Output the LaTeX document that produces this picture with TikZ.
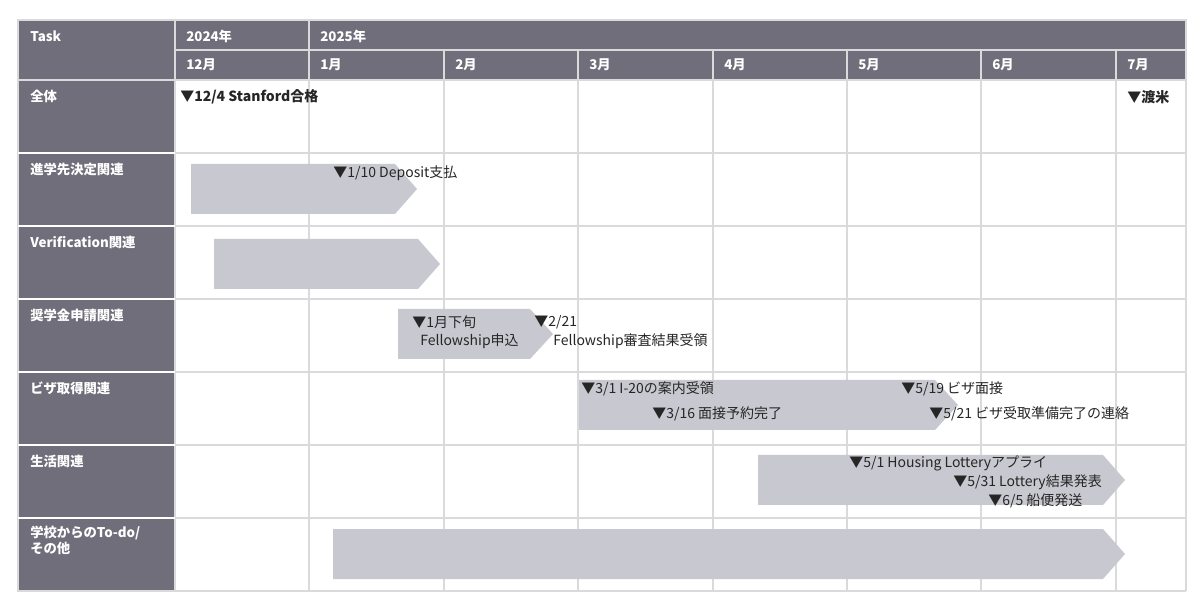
\documentclass[tikz,border=0pt]{standalone}
\usepackage{fontspec}
\setmainfont{Noto Sans CJK JP}
\begin{document}
\begin{tikzpicture}[x=0.75pt,y=-0.75pt,
  hdr/.style={fill=hdrgray,draw=gridgray,line width=0.8pt},
  bar/.style={fill=bargray,draw=none},
  ht/.style={anchor=west,text=white,font=\bfseries\fontsize{10}{12}\selectfont,inner sep=0pt},
  ev/.style={anchor=west,text=black!85,font=\fontsize{10.5}{12}\selectfont,inner sep=0pt},
  evb/.style={anchor=west,text=black!85,font=\bfseries\fontsize{10.5}{12}\selectfont,inner sep=0pt}]
\definecolor{hdrgray}{RGB}{112,110,122}
\definecolor{gridgray}{RGB}{218,218,220}
\definecolor{bargray}{RGB}{200,200,208}
\useasboundingbox (0,0) rectangle (1200,598);
\fill[white] (0,0) rectangle (1200,598);
% header
\filldraw[hdr] (18,20) rectangle (1186,80);
\filldraw[hdr] (18,80) rectangle (175,591);
\draw[gridgray,line width=0.8pt] (175,50) -- (1186,50);
\foreach \x in {175,309} \draw[gridgray,line width=0.8pt] (\x,20) -- (\x,80);
\foreach \x in {444,578,713,847,981,1116} \draw[gridgray,line width=0.8pt] (\x,50) -- (\x,80);
% grid
\foreach \x in {175,309,444,578,713,847,981,1116,1186} \draw[gridgray,line width=0.8pt] (\x,80) -- (\x,591);
\foreach \y in {153,226,299,372,445,518,591} \draw[gridgray,line width=0.8pt] (18,\y) -- (1186,\y);
\foreach \y in {153,226,299,372,445,518} \draw[white,line width=0.8pt] (18,\y) -- (175,\y);
% header texts
\node[ht] (task) at (30,36) {Task};
\node[ht] (y24) at (186,36) {2024年};
\node[ht] (y25) at (320,36) {2025年};
\node[ht] (m12) at (186,65) {12月};
\node[ht] (m1) at (320,65) {1月};
\node[ht] (m2) at (455,65) {2月};
\node[ht] (m3) at (589,65) {3月};
\node[ht] (m4) at (724,65) {4月};
\node[ht] (m5) at (858,65) {5月};
\node[ht] (m6) at (992,65) {6月};
\node[ht] (m7) at (1127,65) {7月};
% row labels
\node[ht] (r1) at (30,96) {全体};
\node[ht] (r2) at (30,169) {進学先決定関連};
\node[ht] (r3) at (30,242) {Verification関連};
\node[ht] (r4) at (30,315) {奨学金申請関連};
\node[ht] (r5) at (30,388) {ビザ取得関連};
\node[ht] (r6) at (30,461) {生活関連};
\node[ht,align=left,anchor=north west] (r7) at (30,526) {学校からのTo-do/\\その他};
% bars
\fill[bar] (191,164) -- (395,164) -- (417,189) -- (395,214) -- (191,214) -- cycle;
\fill[bar] (214,239) -- (418,239) -- (440,264) -- (418,289) -- (214,289) -- cycle;
\fill[bar] (398,309) -- (530,309) -- (553,334) -- (530,359) -- (398,359) -- cycle;
\fill[bar] (579,380) -- (935,380) -- (958,405) -- (935,430) -- (579,430) -- cycle;
\fill[bar] (758,455) -- (1103,455) -- (1125,480) -- (1103,505) -- (758,505) -- cycle;
\fill[bar] (333,529) -- (1103,529) -- (1125,554) -- (1103,579) -- (333,579) -- cycle;
% events
\node[evb] (e1) at (180,97) {▼12/4 Stanford合格};
\node[evb] (e2) at (1127,97) {▼渡米};
\node[ev] (e3) at (333,173) {▼1/10 Deposit支払};
\node[ev] (e4) at (412,322) {▼1月下旬};
\node[ev] (e5) at (420,341) {Fellowship申込};
\node[ev] (e6) at (534,322) {▼2/21};
\node[ev] (e7) at (553,341) {Fellowship審査結果受領};
\node[ev] (e8) at (581,389) {▼3/1 I-20の案内受領};
\node[ev] (e9) at (652,414) {▼3/16 面接予約完了};
\node[ev] (e10) at (901,389) {▼5/19 ビザ面接};
\node[ev] (e11) at (929,414) {▼5/21 ビザ受取準備完了の連絡};
\node[ev] (e12) at (849,463) {▼5/1 Housing Lotteryアプライ};
\node[ev] (e13) at (953,482) {▼5/31 Lottery結果発表};
\node[ev] (e14) at (988,501) {▼6/5 船便発送};
\end{tikzpicture}
\end{document}
